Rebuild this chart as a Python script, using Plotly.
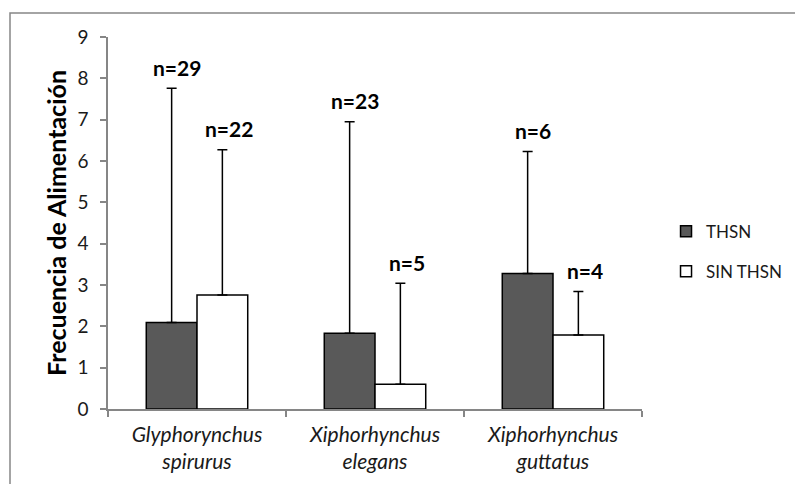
import plotly.graph_objects as go

categories = ["<i>Glyphorynchus<br>spirurus</i>", "<i>Xiphorhynchus<br>elegans</i>", "<i>Xiphorhynchus<br>guttatus</i>"]
thsn_mean = [2.09, 1.83, 3.28]
thsn_err = [5.67, 5.12, 2.95]
sin_mean = [2.76, 0.60, 1.79]
sin_err = [3.51, 2.44, 1.05]
thsn_n = ["n=29", "n=23", "n=6"]
sin_n = ["n=22", "n=5", "n=4"]
y_ticks = [0, 1, 2, 3, 4, 5, 6, 7, 8, 9]

W, H = 795, 484
L, R, T, B = 108, 153, 37, 75
pw, ph = W - L - R, H - T - B

FONT = "Lato"
TXT = "#1a1a1a"

fig = go.Figure()
fig.add_trace(go.Bar(
    x=categories, y=thsn_mean, name="THSN", showlegend=False,
    marker=dict(color="#595959", line=dict(color="#000000", width=1.5)),
    error_y=dict(type="data", array=thsn_err, symmetric=False, arrayminus=[0]*3,
                 color="#000000", thickness=1.5, width=5),
))
fig.add_trace(go.Bar(
    x=categories, y=sin_mean, name="SIN THSN", showlegend=False,
    marker=dict(color="#ffffff", line=dict(color="#000000", width=1.5)),
    error_y=dict(type="data", array=sin_err, symmetric=False, arrayminus=[0]*3,
                 color="#000000", thickness=1.5, width=5),
))
# legend proxies (small squares like the reference)
fig.add_trace(go.Scatter(x=[None], y=[None], mode="markers", name="THSN", legendgroup="a",
                         marker=dict(symbol="square", size=11, color="#595959",
                                     line=dict(color="#000000", width=1.5))))
fig.add_trace(go.Scatter(x=[None], y=[None], mode="markers", name="SIN THSN", legendgroup="b",
                         marker=dict(symbol="square", size=11, color="#ffffff",
                                     line=dict(color="#000000", width=1.5))))

bw = 0.287
for i in range(3):
    fig.add_annotation(x=i - bw/2, y=thsn_mean[i] + thsn_err[i], text="<b>%s</b>" % thsn_n[i],
                       showarrow=False, yshift=21, xshift=6,
                       font=dict(family=FONT, size=21, color="#000000"))
    fig.add_annotation(x=i + bw/2, y=sin_mean[i] + sin_err[i], text="<b>%s</b>" % sin_n[i],
                       showarrow=False, yshift=21, xshift=6,
                       font=dict(family=FONT, size=21, color="#000000"))

# outer chart border
fig.add_shape(type="rect", xref="paper", yref="paper",
              x0=(10 - L) / pw, x1=(W + 10 - L) / pw,
              y0=-(H + 10 - T - ph) / ph, y1=(H - 13 - B) / ph,
              line=dict(color="#868686", width=1.5), fillcolor="rgba(0,0,0,0)", layer="below")

fig.update_layout(
    width=W, height=H,
    margin=dict(l=L, r=R, t=T, b=B, autoexpand=False),
    paper_bgcolor="#ffffff", plot_bgcolor="#ffffff",
    barmode="group", bargap=0.43, bargroupgap=0,
    font=dict(family=FONT, color=TXT),
    showlegend=True,
    legend=dict(x=1.045, y=0.525, xanchor="left", yanchor="top",
                font=dict(family=FONT, size=17, color=TXT),
                tracegroupgap=15, traceorder="grouped", bgcolor="rgba(0,0,0,0)"),
    xaxis=dict(showline=True, linecolor="#868686", linewidth=1.5,
               ticks="outside", ticklen=6, tickcolor="#868686", tickwidth=1.5,
               tickson="boundaries", showgrid=False, ticklabelstandoff=6,
               tickfont=dict(family=FONT, size=21, color=TXT)),
    yaxis=dict(range=[0, 9], tickvals=y_ticks, showline=True, linecolor="#868686", linewidth=1.5,
               ticks="outside", ticklen=6, tickcolor="#868686", tickwidth=1.5,
               showgrid=False, zeroline=False, ticklabelstandoff=8,
               tickfont=dict(family=FONT, size=19, color=TXT),
               title=dict(text="<b>Frecuencia de Alimentación</b>", standoff=4,
                          font=dict(family=FONT, size=25, color="#000000"))),
)

fig.write_html("out.html")
